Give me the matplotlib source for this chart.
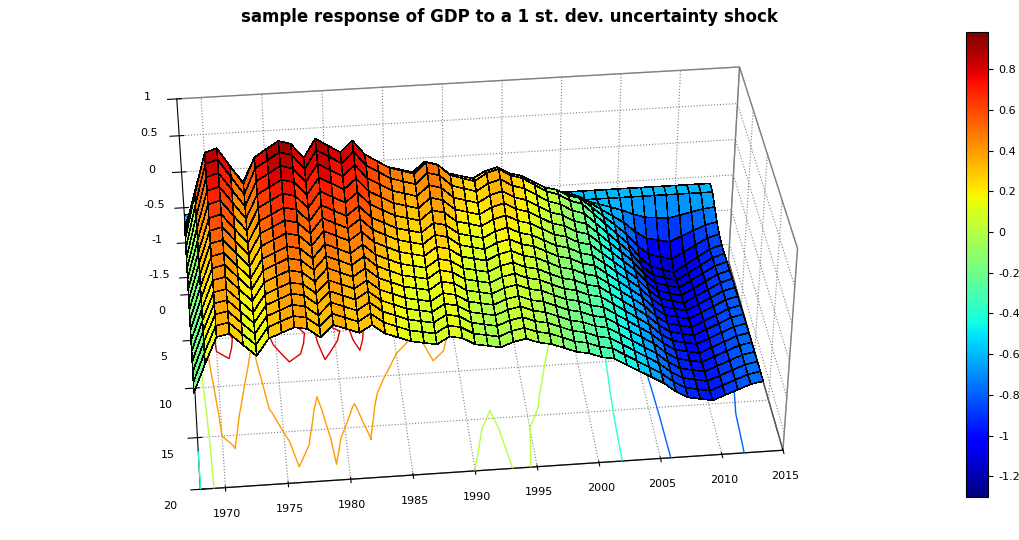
import numpy as np
import matplotlib
matplotlib.use("Agg")
import matplotlib.pyplot as plt
from matplotlib import cm

# time axis (years)
years = [1968, 1969, 1970, 1971, 1972, 1973, 1974, 1975, 1976, 1977, 1978, 1979,
         1980, 1981, 1982, 1983, 1984, 1985, 1986, 1987, 1988, 1989, 1990, 1991,
         1992, 1993, 1994, 1995, 1996, 1997, 1998, 1999, 2000, 2001, 2002, 2003,
         2004, 2005, 2006, 2007, 2008, 2009, 2010, 2011, 2012, 2013]
# peak response above the base level for each year
peak = [0.3, 0.9, 1.45, 1.5, 1.25, 1.0, 1.35, 1.45, 1.55, 1.5, 1.3, 1.55,
        1.45, 1.35, 1.5, 1.3, 1.2, 1.1, 1.05, 1.0, 1.15, 1.1, 0.95, 0.9,
        0.85, 0.95, 1.0, 0.9, 0.85, 0.75, 0.65, 0.6, 0.5, 0.45, 0.3, 0.15,
        0.0, -0.15, -0.35, -0.5, -0.55, -0.6, -0.5, -0.4, -0.3, -0.25]
# horizon shape (0..20)
horizon = list(range(21))
shape = [0.0, 0.0, 0.35, 0.7, 0.9, 1.0, 0.98, 0.94, 0.9, 0.86, 0.82,
         0.79, 0.76, 0.73, 0.71, 0.69, 0.67, 0.66, 0.65, 0.64, 0.63]
base = -0.6

X, Y = np.meshgrid(years, horizon)
Z = base + np.outer(shape, peak)

fig = plt.figure(figsize=(10.19, 5.4), dpi=100)
ax = fig.add_axes([-0.03, -0.07, 0.98, 1.1], projection="3d")
norm = plt.Normalize(-1.3, 0.98)
ax.plot_surface(X, Y, Z, cmap=cm.jet, norm=norm, edgecolor="k",
                linewidth=0.4, rstride=1, cstride=1, antialiased=False)
ax.contour(X, Y, Z, levels=6, cmap=cm.jet, norm=norm, offset=-1.75, linewidths=1)

ax.set_xlim(1968, 2015)
ax.set_ylim(20, 0)
ax.set_zlim(-1.75, 1)
ax.set_xticks([1970, 1975, 1980, 1985, 1990, 1995, 2000, 2005, 2010, 2015])
ax.set_yticks([0, 5, 10, 15, 20])
ax.set_zticks([-1.5, -1, -0.5, 0, 0.5, 1])
ax.set_zticklabels(["-1.5", "-1", "-0.5", "0", "0.5", "1"])
ax.tick_params(labelsize=8)
ax.view_init(elev=36, azim=-96)
ax.set_box_aspect((3.4, 1.9, 1.45), zoom=1.15)
for a in (ax.xaxis, ax.yaxis, ax.zaxis):
    a.pane.fill = False
    a.pane.set_edgecolor("k")
    a._axinfo["grid"]["linestyle"] = ":"
    a._axinfo["grid"]["color"] = "0.5"
fig.suptitle("sample response of GDP to a 1 st. dev. uncertainty shock",
             fontsize=12, fontweight="bold", y=0.985)

cax = fig.add_axes([0.948, 0.08, 0.022, 0.86])
cb = fig.colorbar(cm.ScalarMappable(norm=norm, cmap=cm.jet), cax=cax)
cb.set_ticks([-1.2, -1, -0.8, -0.6, -0.4, -0.2, 0, 0.2, 0.4, 0.6, 0.8])
cb.ax.set_yticklabels(["-1.2", "-1", "-0.8", "-0.6", "-0.4", "-0.2", "0",
                       "0.2", "0.4", "0.6", "0.8"])
cb.ax.tick_params(labelsize=8)

fig.savefig("out.png", dpi=100)
